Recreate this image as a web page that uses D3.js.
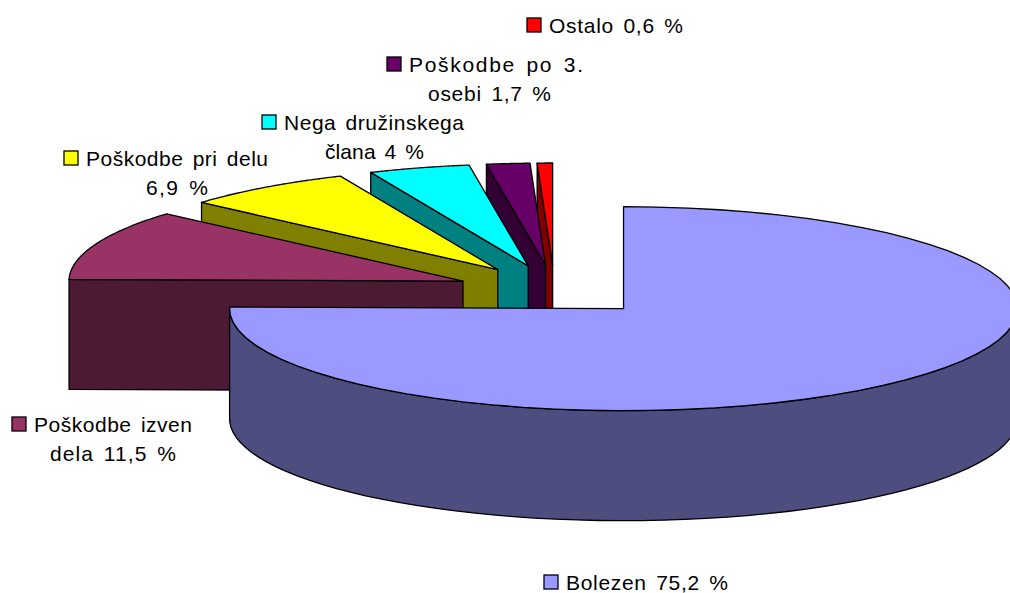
<!DOCTYPE html>
<html>
<head>
<meta charset="utf-8">
<script src="https://cdn.jsdelivr.net/npm/d3@7"></script>
<style>
html,body{margin:0;padding:0;background:#fff;overflow:hidden}
svg{display:block}
text{font-family:"Liberation Sans",Arial,sans-serif;font-size:21px;word-spacing:3px;fill:#000}
</style>
</head>
<body>
<svg id="c" width="1010" height="593"></svg>
<script>
// Data
const categories = ["Bolezen","Poškodbe izven dela","Poškodbe pri delu","Nega družinskega člana","Poškodbe po 3. osebi","Ostalo"];
const shares = [75.2,11.5,6.9,4,1.7,0.6];
const labelLines = [
  ["Bolezen 75,2 %"],
  ["Poškodbe izven","dela 11,5 %"],
  ["Poškodbe pri delu","6,9 %"],
  ["Nega družinskega","člana 4 %"],
  ["Poškodbe po 3.","osebi 1,7 %"],
  ["Ostalo 0,6 %"]
];
const topColors  = ["#9999FF","#993366","#FFFF00","#00FFFF","#660066","#FF0000"];
const wallColors = ["#4D4D80","#4D1A33","#808000","#008080","#330033","#800000"];
// label layout: left edge and width of each line, first baseline
const lineX = [[566],[34,50],[86,146],[284,325],[409,428],[549]];
const lineW = [[162],[158,126],[182,62],[180,99],[174,123],[134]];
const lineY = [590,432,166,130,72,33];

// Layout
const cx=554.5, cy=290.5, rx=394, ry=102, depth=110, explode=0.25;
const warp=1.2*Math.PI/180; // slight angular distortion of the 3D projection

const svg=d3.select("#c");
const pie=d3.pie().sort(null).value(d=>d).startAngle(0).endAngle(2*Math.PI);
const arcs=pie(shares);
const sx=d3.scaleLinear().domain([-1,1]).range([cx-rx,cx+rx]);
const sy=d3.scaleLinear().domain([-1,1]).range([cy-ry,cy+ry]);
const line=d3.line().curve(d3.curveLinear);
const proj=t=>t+warp*Math.sin(2*t);

arcs.forEach((a,i)=>{a.mid=(a.startAngle+a.endAngle)/2;
  a.ox=sx(explode*Math.sin(a.mid))-cx;
  a.oy=sy(-explode*Math.cos(a.mid))-cy;});
const pt=(a,ang,r=1,dy=0)=>[sx(r*Math.sin(proj(ang)))+a.ox, sy(-r*Math.cos(proj(ang)))+a.oy+dy];
const rim=(a,s,e,dy=0)=>d3.range(0,61).map(k=>pt(a,s+(e-s)*k/60,1,dy));

const g=svg.append("g").attr("stroke","#000").attr("stroke-width",1.3).attr("stroke-linejoin","round");

// back to front: small exploded slices first, largest last
d3.range(arcs.length-1,-1,-1).forEach(i=>{
  const a=arcs[i];
  const apex=pt(a,0,0), start=pt(a,a.startAngle);
  if(i===0){
    const s=Math.PI/2, e=a.endAngle;
    const wall=rim(a,s,e).concat(rim(a,s,e,depth).reverse());
    g.append("path").attr("d",line(wall)+"Z").attr("fill",wallColors[i]);
  }else{
    const wall=[start,apex,[apex[0],apex[1]+depth],[start[0],start[1]+depth]];
    g.append("path").attr("d",line(wall)+"Z").attr("fill",wallColors[i]);
  }
  const top=[apex].concat(rim(a,a.startAngle,a.endAngle));
  g.append("path").attr("d",line(top)+"Z").attr("fill",topColors[i]);
});

// labels with legend keys
labelLines.forEach((lines,i)=>{
  lines.forEach((t,k)=>{
    svg.append("text").attr("x",lineX[i][k]).attr("y",lineY[i]+k*28.5)
      .attr("textLength",lineW[i][k]).attr("lengthAdjust","spacing").text(t);
  });
  svg.append("rect").attr("x",lineX[i][0]-22).attr("y",lineY[i]-15).attr("width",14).attr("height",14)
    .attr("fill",topColors[i]).attr("stroke","#000").attr("stroke-width",1.3);
});
</script>
</body>
</html>
